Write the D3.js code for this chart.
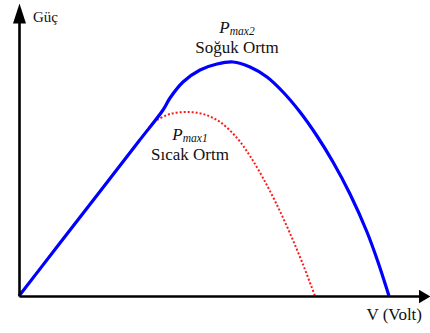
<!DOCTYPE html>
<html>
<head>
<meta charset="utf-8">
<script src="https://cdn.jsdelivr.net/npm/d3@7"></script>
<style>
  html, body { margin: 0; padding: 0; background: #fff; }
  svg { display: block; }
</style>
</head>
<body>
<svg id="chart" width="430" height="333"></svg>
<script>
// P–V curves of a PV panel: cold ambient (solid blue) vs hot ambient (dotted red)
const voltageCold = [0, 10, 20, 30, 36, 37.75, 41, 45.25, 49.5, 53.5, 57.75, 62, 66, 70.25, 74.5, 78.5, 82.75, 87, 89.75, 92.5];
const powerCold   = [0, 20.67, 41.33, 62, 74.4, 79.2, 85.6, 90.4, 92.8, 93.6, 91.6, 87.6, 81.6, 73.6, 64, 53.6, 40.8, 25.6, 13.6, 0];

const voltageHot = [0, 10, 20, 30, 33.5, 34.5, 37.75, 42, 46, 50.25, 54.5, 57.75, 61, 64.25, 67.5, 70.75, 74];
const powerHot   = [0, 20.67, 41.33, 62, 69.2, 70.4, 72.8, 73.6, 72.8, 69.6, 63.2, 56, 47.2, 37.2, 26, 13.6, 0];

const axisLabels = { x: "V (Volt)", y: "Güç" };
const peakLabels = [
  { sub: "max2", name: "Soğuk Ortm", v: 54.5, p: 93.6 },
  { sub: "max1", name: "Sıcak Ortm", v: 42.75, p: 73.6 }
];

const serif = "'Liberation Serif', 'Times New Roman', 'DejaVu Serif', serif";
const svg = d3.select("#chart");

const x = d3.scaleLinear().domain([0, 100]).range([19, 419]);
const y = d3.scaleLinear().domain([0, 100]).range([296, 46]);

// axis scales run a little past the data area to leave room for the arrowheads
const xAxisScale = d3.scaleLinear().domain([0, x.invert(426)]).range([19, 426]);
const yAxisScale = d3.scaleLinear().domain([0, y.invert(9)]).range([296, 9]);

const defs = svg.append("defs");
defs.append("marker")
  .attr("id", "arrowX")
  .attr("markerUnits", "userSpaceOnUse")
  .attr("viewBox", "0 0 12 14")
  .attr("markerWidth", 12).attr("markerHeight", 14)
  .attr("refX", 8).attr("refY", 7)
  .attr("orient", "auto")
  .append("path").attr("d", "M0,0L12,7L0,14Z").attr("fill", "#000");
defs.append("marker")
  .attr("id", "arrowY")
  .attr("markerUnits", "userSpaceOnUse")
  .attr("viewBox", "0 0 20 13")
  .attr("markerWidth", 20).attr("markerHeight", 13)
  .attr("refX", 14).attr("refY", 6.5)
  .attr("orient", "auto")
  .append("path").attr("d", "M0,0L20,6.5L0,13Z").attr("fill", "#000");

const line = d3.line()
  .x(d => x(d[0]))
  .y(d => y(d[1]))
  .curve(d3.curveCatmullRom.alpha(0.5));

// hot-ambient curve sits underneath
svg.append("path")
  .datum(d3.zip(voltageHot, powerHot))
  .attr("d", line)
  .attr("fill", "none")
  .attr("stroke", "#ff1a1a")
  .attr("stroke-width", 2)
  .attr("stroke-dasharray", "2,2");

svg.append("path")
  .datum(d3.zip(voltageCold, powerCold))
  .attr("d", line)
  .attr("fill", "none")
  .attr("stroke", "#0000ff")
  .attr("stroke-width", 3.2)
  .attr("stroke-linejoin", "round");

// axes without ticks, ending in arrowheads
const gx = svg.append("g")
  .attr("transform", `translate(0,${y(0)})`)
  .call(d3.axisBottom(xAxisScale).tickValues([]).tickSizeOuter(0));
gx.select(".domain")
  .attr("stroke", "#000").attr("stroke-width", 2.6)
  .attr("marker-end", "url(#arrowX)");

const gy = svg.append("g")
  .attr("transform", `translate(${x(0)},0)`)
  .call(d3.axisLeft(yAxisScale).tickValues([]).tickSizeOuter(0));
gy.select(".domain")
  .attr("stroke", "#000").attr("stroke-width", 2.6)
  .attr("marker-end", "url(#arrowY)");

svg.append("text")
  .attr("x", x(0) + 14).attr("y", 22)
  .attr("font-family", serif)
  .attr("font-size", 15)
  .attr("fill", "#111")
  .text(axisLabels.y);

svg.append("text")
  .attr("x", 422).attr("y", 320)
  .attr("text-anchor", "end")
  .attr("font-family", serif)
  .attr("font-size", 17)
  .attr("fill", "#111")
  .text(axisLabels.x);

// peak annotations: italic P with subscript, then the ambient name
peakLabels.forEach((d, i) => {
  const cx = x(d.v);
  const top = i === 0 ? y(d.p) - 29 : y(d.p) + 28;
  const t = svg.append("text")
    .attr("x", cx).attr("y", top)
    .attr("text-anchor", "middle")
    .attr("font-family", serif)
    .attr("font-style", "italic")
    .attr("font-size", 17)
    .attr("fill", "#111");
  t.append("tspan").text("P");
  t.append("tspan").attr("font-size", 11.5).attr("dy", 2).text(d.sub);
  svg.append("text")
    .attr("x", cx).attr("y", top + 20)
    .attr("text-anchor", "middle")
    .attr("font-family", serif)
    .attr("font-size", 17)
    .attr("fill", "#111")
    .text(d.name);
});
</script>
</body>
</html>
